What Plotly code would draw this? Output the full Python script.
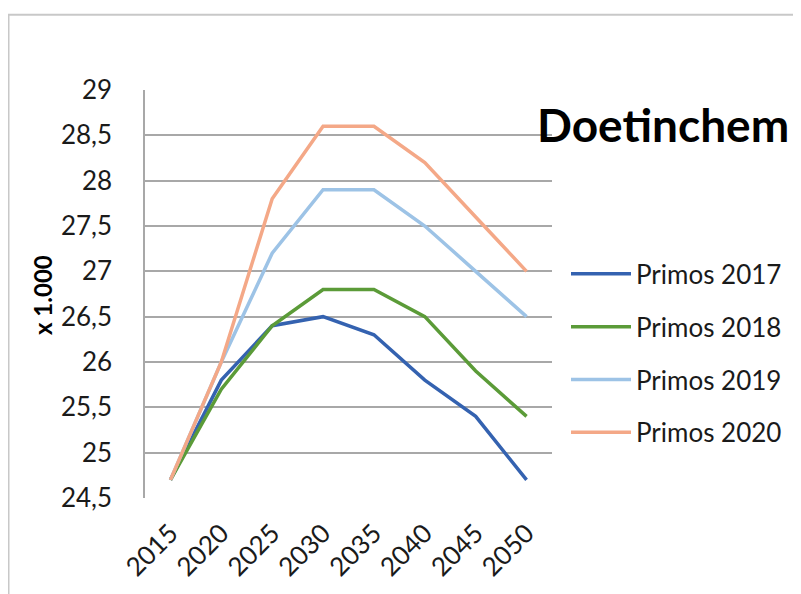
import plotly.graph_objects as go

years = ["2015", "2020", "2025", "2030", "2035", "2040", "2045", "2050"]
primos_2017 = [24.7, 25.8, 26.4, 26.5, 26.3, 25.8, 25.4, 24.7]
primos_2018 = [24.7, 25.7, 26.4, 26.8, 26.8, 26.5, 25.9, 25.4]
primos_2019 = [24.7, 26.0, 27.2, 27.9, 27.9, 27.5, 27.0, 26.5]
primos_2020 = [24.7, 26.0, 27.8, 28.6, 28.6, 28.2, 27.6, 27.0]
series_names = ["Primos 2017", "Primos 2018", "Primos 2019", "Primos 2020"]
series_colors = ["#3462B0", "#5B9B38", "#9DC3E6", "#F4A887"]
y_tickvals = [24.5, 25, 25.5, 26, 26.5, 27, 27.5, 28, 28.5, 29]
y_ticktext = ["24,5", "25", "25,5", "26", "26,5", "27", "27,5", "28", "28,5", "29"]

OFF = 8  # page body margin
W, H = 801 - OFF, 594 - OFF
L, R, T, B = 145 - OFF, 552 - OFF, 90 - OFF, 502 - OFF  # plot area in figure pixels


def px_x(X):  # X given in screenshot pixels
    return (X - OFF - L) / (R - L)


def px_y(Y):
    return (B - (Y - OFF)) / (B - T)


fig = go.Figure()
for i, (name, vals, col) in enumerate(zip(series_names,
                                          [primos_2017, primos_2018, primos_2019, primos_2020],
                                          series_colors)):
    fig.add_trace(go.Scatter(x=years, y=vals, name=name, mode="lines",
                             line=dict(color=col, width=3.5),
                             legendgroup=f"g{i}"))

font = "Lato, 'Noto Sans', sans-serif"

fig.update_layout(
    width=W, height=H,
    margin=dict(l=L, r=W - R, t=T, b=H - B, pad=0),
    paper_bgcolor="white", plot_bgcolor="white",
    font=dict(family=font, size=25, color="#1a1a1a"),
    showlegend=True,
    legend=dict(x=px_x(566), y=px_y(252), xanchor="left", yanchor="top",
                font=dict(size=26, color="#1a1a1a"), tracegroupgap=16,
                bgcolor="rgba(0,0,0,0)", itemwidth=60),
    xaxis=dict(type="category", range=[-0.5, 7.5], showgrid=False, zeroline=False,
               showline=False, tickangle=-45, ticks="", tickfont=dict(size=26),
               ticklabelstandoff=14),
    yaxis=dict(range=[24.5, 29], tickvals=y_tickvals, ticktext=y_ticktext,
               showgrid=True, gridcolor="#A8A8A8", gridwidth=1.5,
               showline=True, linecolor="#A8A8A8", linewidth=1.5,
               zeroline=False, ticks="", ticklabelstandoff=26,
               tickfont=dict(size=26)),
    annotations=[
        dict(text="<b>Doetinchem</b>", x=px_x(535), y=px_y(125), xref="paper", yref="paper",
             xanchor="left", yanchor="middle", showarrow=False,
             font=dict(size=46, color="black", family=font)),
        dict(text="<b>x 1.000</b>", x=px_x(43), y=px_y(297), xref="paper", yref="paper",
             xanchor="center", yanchor="middle", showarrow=False, textangle=-90,
             font=dict(size=24, color="black", family=font)),
    ],
    shapes=[
        dict(type="line", xref="paper", yref="paper", x0=px_x(8.5), x1=px_x(8.5),
             y0=px_y(14), y1=px_y(620), line=dict(color="#C8C8C8", width=2)),
        dict(type="line", xref="paper", yref="paper", x0=px_x(8), x1=px_x(830),
             y0=px_y(14), y1=px_y(14), line=dict(color="#C8C8C8", width=2)),
    ],
)

fig.write_html("out.html")
